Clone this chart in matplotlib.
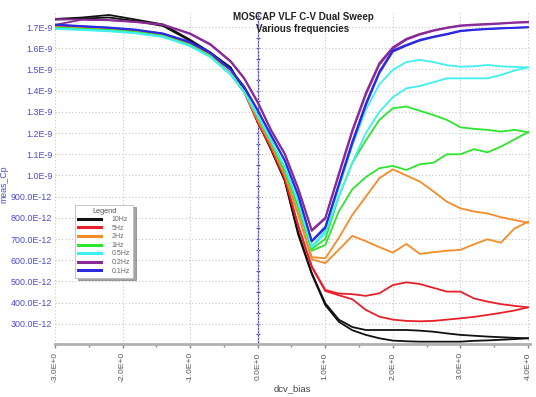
import matplotlib
matplotlib.use("Agg")
import matplotlib.pyplot as plt
import numpy as np
from matplotlib.ticker import FuncFormatter, MultipleLocator

plt.rcParams["font.family"] = ["Liberation Sans", "DejaVu Sans"]

# Bias voltage grid (V)
V = [-3.0, -2.6, -2.2, -1.8, -1.4, -1.0, -0.7, -0.4, -0.2, 0.0, 0.2, 0.4, 0.6, 0.8,
     1.0, 1.2, 1.4, 1.6, 1.8, 2.0, 2.2, 2.4, 2.6, 2.8, 3.0, 3.2, 3.4, 3.6, 3.8, 4.0]

# Capacitance values in units of 1e-12 F (forward / reverse sweep)
c10_fwd = [1738, 1745, 1757, 1735, 1712, 1640, 1580, 1510, 1400, 1250, 1125, 980, 730, 540,
           397, 320, 285, 271, 271, 271, 271, 268, 263, 255, 248, 244, 240, 237, 234, 232]
c10_rev = [1735, 1740, 1745, 1728, 1705, 1635, 1570, 1500, 1410, 1255, 1120, 975, 720, 535,
           389, 310, 270, 248, 232, 221, 218, 216, 216, 216, 216, 220, 222, 225, 228, 232]
c5_fwd = [1702, 1698, 1692, 1682, 1664, 1620, 1568, 1480, 1395, 1254, 1130, 990, 765, 572,
          460, 443, 440, 432, 444, 483, 496, 488, 470, 452, 452, 420, 405, 393, 385, 378]
c5_rev = [1700, 1696, 1690, 1680, 1662, 1618, 1565, 1478, 1392, 1250, 1128, 985, 760, 568,
          455, 435, 416, 366, 334, 320, 314, 312, 314, 320, 326, 333, 342, 352, 363, 378]
c2_fwd = [1700, 1695, 1690, 1680, 1662, 1618, 1566, 1480, 1396, 1265, 1145, 1005, 820, 615,
          609, 705, 814, 900, 987, 1029, 1000, 971, 925, 876, 845, 830, 821, 803, 790, 777]
c2_rev = [1698, 1694, 1688, 1678, 1660, 1616, 1563, 1477, 1393, 1262, 1142, 1000, 815, 605,
          586, 650, 715, 690, 662, 636, 677, 630, 638, 645, 649, 675, 699, 683, 750, 781]
c1_fwd = [1697, 1692, 1686, 1676, 1658, 1615, 1563, 1478, 1396, 1280, 1160, 1025, 855, 653,
          700, 900, 1060, 1165, 1262, 1317, 1325, 1305, 1285, 1262, 1227, 1220, 1215, 1207, 1215, 1204]
c1_rev = [1695, 1690, 1684, 1674, 1656, 1613, 1561, 1476, 1394, 1278, 1158, 1022, 850, 645,
          672, 830, 935, 992, 1034, 1045, 1026, 1053, 1060, 1100, 1100, 1124, 1109, 1136, 1170, 1204]
c05_fwd = [1693, 1688, 1682, 1672, 1655, 1612, 1560, 1478, 1395, 1285, 1167, 1041, 876, 664,
           740, 940, 1140, 1310, 1430, 1498, 1535, 1545, 1535, 1520, 1513, 1515, 1521, 1515, 1512, 1510]
c05_rev = [1691, 1686, 1680, 1670, 1653, 1610, 1558, 1476, 1393, 1283, 1165, 1038, 872, 660,
           728, 900, 1060, 1200, 1300, 1369, 1411, 1422, 1440, 1458, 1458, 1458, 1458, 1474, 1495, 1510]
c02_fwd = [1737, 1735, 1733, 1725, 1712, 1670, 1620, 1540, 1460, 1348, 1214, 1104, 940, 743,
           801, 1010, 1215, 1390, 1530, 1605, 1645, 1668, 1685, 1698, 1708, 1712, 1715, 1718, 1722, 1725]
c02_rev = [1710, 1735, 1732, 1723, 1710, 1667, 1616, 1536, 1456, 1343, 1210, 1100, 935, 738,
           796, 1000, 1205, 1380, 1522, 1598, 1640, 1664, 1682, 1695, 1705, 1709, 1712, 1716, 1720, 1722]
c01_fwd = [1712, 1705, 1698, 1688, 1670, 1630, 1580, 1500, 1420, 1309, 1190, 1073, 908, 692,
           758, 960, 1160, 1340, 1490, 1590, 1616, 1640, 1655, 1668, 1683, 1688, 1692, 1695, 1697, 1699]
c01_rev = [1710, 1703, 1696, 1686, 1668, 1627, 1577, 1497, 1416, 1305, 1186, 1069, 903, 688,
           752, 952, 1150, 1330, 1482, 1584, 1612, 1636, 1652, 1665, 1680, 1686, 1690, 1693, 1696, 1699]

labels = ["10Hz", "5Hz", "2Hz", "1Hz", "0.5Hz", "0.2Hz", "0.1Hz"]
series = [(c10_fwd, c10_rev), (c5_fwd, c5_rev), (c2_fwd, c2_rev), (c1_fwd, c1_rev),
          (c05_fwd, c05_rev), (c02_fwd, c02_rev), (c01_fwd, c01_rev)]
colors = ["#111111", "#e8202a", "#f58c28", "#2ee52e", "#40f0f0", "#8a2a98", "#2a2ae0"]

fig = plt.figure(figsize=(5.36, 3.97), dpi=100)
ax = fig.add_axes([55 / 536, (397 - 344) / 397, 475 / 536, 332 / 397])

x = np.array(V)
for (fwd, rev), col, lab in zip(series, colors, labels):
    ax.plot(x, np.array(fwd) * 1e-12, color=col, lw=1.3, label=lab)
    ax.plot(x, np.array(rev) * 1e-12, color=col, lw=1.3)

ax.set_xlim(-3.0, 4.03)
ax.set_ylim(205e-12, 1771e-12)

def yfmt(v, pos):
    if v >= 0.95e-9:
        return "%.1fE-9" % (v * 1e9)
    return "%.1fE-12" % (v * 1e12)

ax.yaxis.set_major_locator(MultipleLocator(100e-12))
ax.yaxis.set_major_formatter(FuncFormatter(yfmt))
ax.xaxis.set_major_locator(MultipleLocator(1.0))
ax.xaxis.set_minor_locator(MultipleLocator(0.5))
ax.xaxis.set_major_formatter(FuncFormatter(lambda v, p: "%.1fE+0" % v if abs(v) > 1e-9 else "0.0E+0"))

ax.tick_params(axis="y", length=0, pad=2, labelsize=6.4, labelcolor="#4a4ad0")
ax.tick_params(axis="x", which="major", length=3, width=1, color="#888888", pad=3,
               labelsize=6.1, labelcolor="#555555", labelrotation=90)
ax.tick_params(axis="x", which="minor", length=2, width=1, color="#888888")

ax.grid(True, which="major", color="#c8c8c8", linestyle=(0, (1, 2)), lw=0.8)
for s in ["top", "right", "left"]:
    ax.spines[s].set_visible(False)
ax.spines["bottom"].set_color("#b0b0b0")
ax.spines["bottom"].set_linewidth(2)

# vertical blue axis at x = 0
ax.axvline(0, color="#5050c8", lw=0.9, zorder=1)
yt = np.arange(250e-12, 1771e-12, 50e-12)
ax.plot(np.zeros_like(yt), yt, linestyle="none", marker="_", ms=3, color="#5050c8", mew=0.8, zorder=1)

ax.set_ylabel("meas_Cp", color="#4a4ad0", fontsize=6.3)
ax.yaxis.set_label_coords(-0.098, 0.48)
ax.set_xlabel("dcv_bias", color="#444444", fontsize=6.8)
ax.xaxis.set_label_coords(0.5, -0.12)

fig.text(303 / 536, 1 - 23 / 397, "MOSCAP VLF C-V Dual Sweep\nVarious frequencies",
         ha="center", va="center", fontsize=7, fontweight="bold", color="#222222", linespacing=1.15)

leg = ax.legend(loc="upper left", bbox_to_anchor=(0.035, 0.43), title="Legend", fontsize=5.0,
                title_fontsize=5.3, handlelength=3.3, handletextpad=1.5, labelspacing=0.22,
                borderpad=0.45, frameon=True, fancybox=False, shadow=True, markerfirst=True)
leg.get_frame().set_edgecolor("#bbbbbb")
leg.get_frame().set_linewidth(0.6)
for t in leg.get_texts():
    t.set_color("#666666")
leg.get_title().set_color("#555555")
for h in leg.get_lines():
    h.set_linewidth(2.2)

fig.savefig("out.png", dpi=100)
